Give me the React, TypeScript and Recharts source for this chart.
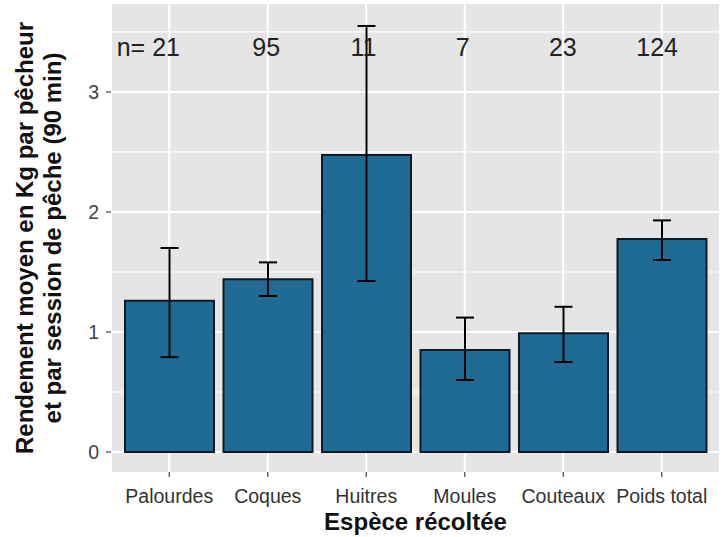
import { ComposedChart, Bar, ErrorBar, Scatter, XAxis, YAxis, CartesianGrid } from "recharts";

const FONT = "'Liberation Sans', Arial, sans-serif";

const species = ["Palourdes", "Coques", "Huitres", "Moules", "Couteaux", "Poids total"];
const means = [1.26, 1.44, 2.475, 0.85, 0.99, 1.775];
const lows = [0.79, 1.3, 1.425, 0.6, 0.75, 1.6];
const highs = [1.7, 1.58, 3.55, 1.12, 1.21, 1.93];

// sample sizes, written across the top of the panel (x in category units)
const nTexts = ["n= 21", "95", "11", "7", "23", "124"];
const nX = [0.78, 1.98, 2.97, 3.98, 5.0, 5.96];
const nY = 3.37;

const yTicks = [0, 1, 2, 3];
const yMinor = [0.5, 1.5, 2.5, 3.5];

const data = species.map((name, i) => ({
  name,
  mean: means[i],
  err: [means[i] - lows[i], highs[i] - means[i]],
}));

const nLabels = nTexts.map((label, i) => ({ x: nX[i], y: nY, label }));

const YTitle = ({ viewBox }: any) => {
  const cy = viewBox.y + viewBox.height / 2;
  return (
    <g fontFamily={FONT} fontWeight="bold" fontSize={24} fill="#111">
      <text x={33} y={cy} textAnchor="middle" transform={`rotate(-90 33 ${cy})`}>
        Rendement moyen en Kg par pêcheur
      </text>
      <text x={61} y={cy} textAnchor="middle" transform={`rotate(-90 61 ${cy})`}>
        et par session de pêche (90 min)
      </text>
    </g>
  );
};

const XTitle = ({ viewBox }: any) => (
  <text
    x={viewBox.x + viewBox.width / 2}
    y={530}
    textAnchor="middle"
    fontFamily={FONT}
    fontWeight="bold"
    fontSize={24}
    fill="#111"
  >
    Espèce récoltée
  </text>
);

const NLabel = (props: any) => (
  <text
    x={props.cx}
    y={props.cy}
    dy="0.35em"
    textAnchor="middle"
    fontFamily={FONT}
    fontSize={25}
    fill="#222"
  >
    {props.payload.label}
  </text>
);

export default function App() {
  return (
    <div style={{ position: "absolute", left: 0, top: 0 }}>
      <ComposedChart
        width={725}
        height={537}
        data={data}
        margin={{ top: 4, right: 5, bottom: 0, left: 0 }}
      >
        <CartesianGrid
          xAxisId="cat"
          fill="#e5e5e5"
          stroke="#ffffff"
          strokeWidth={1.2}
          vertical={false}
          horizontalValues={yMinor}
        />
        <CartesianGrid
          xAxisId="cat"
          stroke="#ffffff"
          strokeWidth={2}
          horizontalValues={yTicks}
        />
        <XAxis
          xAxisId="cat"
          dataKey="name"
          height={65}
          padding={{ left: 9, right: 9 }}
          axisLine={false}
          tickSize={5}
          tickMargin={12}
          tickLine={{ stroke: "#444", strokeWidth: 1.2 }}
          tick={{ fontFamily: FONT, fontSize: 19.5, fill: "#333" }}
          interval={0}
          label={<XTitle />}
        />
        <XAxis xAxisId="num" type="number" dataKey="x" domain={[0.4, 6.6]} allowDataOverflow hide />
        <YAxis
          width={111}
          type="number"
          domain={[-0.1667, 3.733]}
          ticks={yTicks}
          allowDataOverflow
          axisLine={false}
          tickSize={5}
          tickMargin={7}
          tickLine={{ stroke: "#444", strokeWidth: 1.2 }}
          tick={{ fontFamily: FONT, fontSize: 19.5, fill: "#444" }}
          label={<YTitle />}
        />
        <Bar
          xAxisId="cat"
          dataKey="mean"
          fill="#1f6b94"
          stroke="#0f1a26"
          strokeWidth={2}
          barSize={89}
          isAnimationActive={false}
        >
          <ErrorBar dataKey="err" width={9} stroke="#000" strokeWidth={2} />
        </Bar>
        <Scatter
          xAxisId="num"
          data={nLabels}
          dataKey="y"
          shape={<NLabel />}
          isAnimationActive={false}
        />
      </ComposedChart>
    </div>
  );
}
